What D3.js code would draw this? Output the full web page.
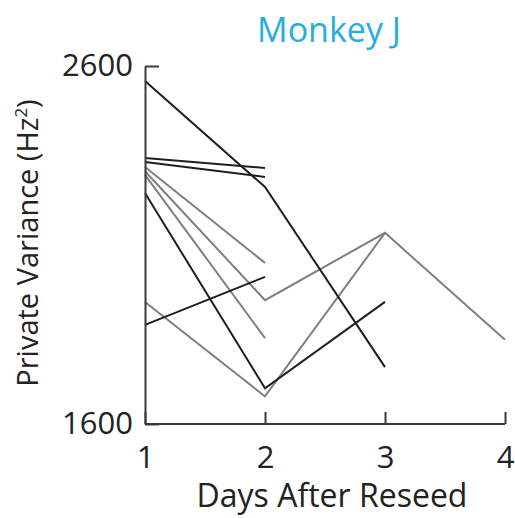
<!DOCTYPE html>
<html>
<head>
<meta charset="utf-8">
<script src="https://cdn.jsdelivr.net/npm/d3@7"></script>
<style>
  html, body { margin: 0; padding: 0; background: #fff; }
  svg text { font-family: "Open Sans", "Noto Sans", sans-serif; }
</style>
</head>
<body>
<svg id="chart" width="515" height="518"></svg>
<script>
// ---- data ----
const days = [1, 2, 3, 4];
const xTickLabels = ["1", "2", "3", "4"];
const yTickValues = [1600, 2600];

// each series: values for day 1, 2, 3, 4 (null = no session)
const serA = [2558, 2262, 1759, null];   // black
const serB = [2343, 2315, null, null];   // black
const serC = [2332, 2290, null, null];   // black
const serD = [2245, 1700, 1941, null];   // black
const serE = [1877, 2011, null, null];   // black
const serF = [2318, 2050, null, null];   // gray
const serG = [2306, 1946, 2134, 1835];   // gray
const serH = [2296, 1840, null, null];   // gray
const serI = [1941, 1677, 2134, null];   // gray

const blackSeries = [serA, serB, serC, serD, serE];
const graySeries = [serF, serG, serH, serI];

// ---- layout ----
const svg = d3.select("#chart");
const x = d3.scaleLinear().domain([1, 4]).range([145, 505]);
const y = d3.scaleLinear().domain([1600, 2600]).range([424, 66]);

const line = d3.line()
  .defined(d => d.v !== null)
  .x(d => x(d.day))
  .y(d => y(d.v));

function toPts(s) { return s.map((v, i) => ({ day: days[i], v })); }

svg.append("g").selectAll("path").data(graySeries).join("path")
  .attr("d", s => line(toPts(s)))
  .attr("fill", "none").attr("stroke", "#7f7f7f").attr("stroke-width", 2);

svg.append("g").selectAll("path").data(blackSeries).join("path")
  .attr("d", s => line(toPts(s)))
  .attr("fill", "none").attr("stroke", "#1e1e1e").attr("stroke-width", 2);

// axes
const axisColor = "#3a3a3a";
const yAxis = svg.append("g").attr("transform", `translate(${x(1)},0)`)
  .call(d3.axisLeft(y).tickValues(yTickValues).tickSizeInner(-14).tickSizeOuter(0).tickPadding(12).tickFormat(d3.format("d")));
const xAxis = svg.append("g").attr("transform", `translate(0,${y(1600)})`)
  .call(d3.axisBottom(x).tickValues(days).tickSizeInner(-12).tickSizeOuter(0).tickPadding(22).tickFormat((d, i) => xTickLabels[i]));

[yAxis, xAxis].forEach(g => {
  g.selectAll("path, line").attr("stroke", axisColor).attr("stroke-width", 2);
  g.selectAll("text").attr("fill", "#222").style("font-size", "31px")
    .style("font-family", '"Open Sans", "Noto Sans", sans-serif');
});
xAxis.select(".domain").attr("d", `M${x(1)},0H${x(4)}`);

// titles
svg.append("text").attr("x", 329).attr("y", 42).attr("text-anchor", "middle")
  .attr("fill", "#29abe2").style("font-size", "34px").text("Monkey J");

svg.append("text").attr("x", 332).attr("y", 507).attr("text-anchor", "middle")
  .attr("fill", "#222").style("font-size", "32px").text("Days After Reseed");

const yl = svg.append("text").attr("transform", "translate(38,243) rotate(-90)")
  .attr("text-anchor", "middle").attr("fill", "#222").style("font-size", "29px");
yl.append("tspan").text("Private Variance (Hz");
yl.append("tspan").attr("dy", -11).style("font-size", "17px").text("2");
yl.append("tspan").attr("dy", 11).text(")");
</script>
</body>
</html>
